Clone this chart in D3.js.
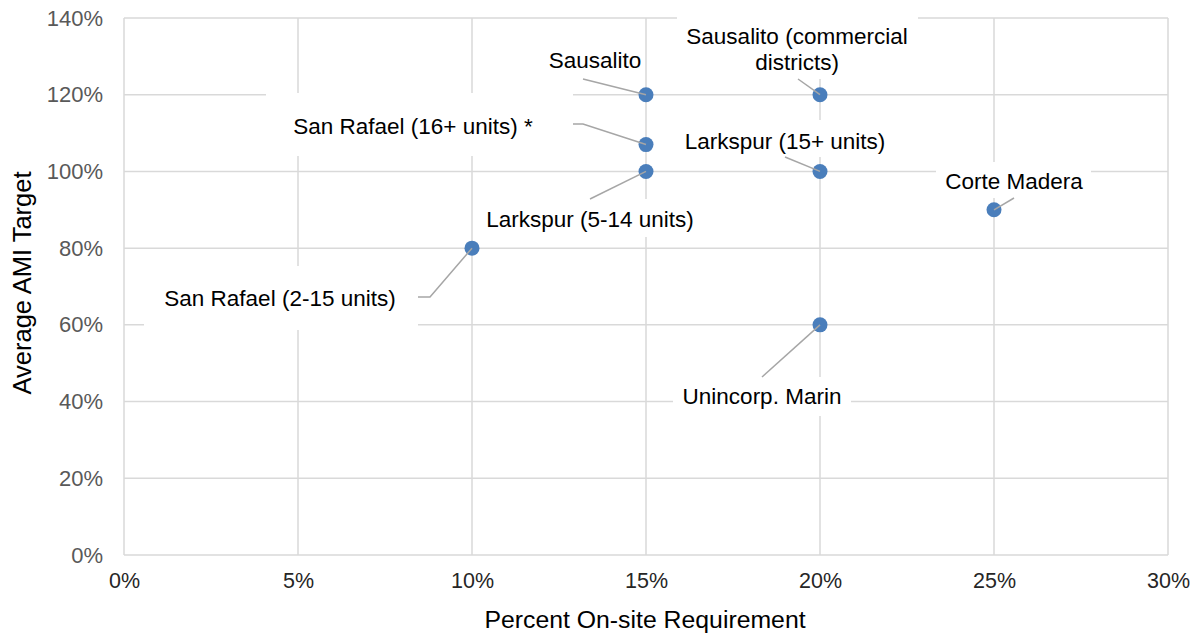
<!DOCTYPE html>
<html>
<head>
<meta charset="utf-8">
<script src="https://cdn.jsdelivr.net/npm/d3@7"></script>
<style>
  body { margin: 0; background: #fff; }
  text { font-family: "Liberation Sans", Arial, sans-serif; }
</style>
</head>
<body>
<div id="chart"></div>
<script>
// data
var names = ["San Rafael (2-15 units)", "Sausalito", "San Rafael (16+ units) *", "Larkspur (5-14 units)",
             "Sausalito (commercial|districts)", "Larkspur (15+ units)", "Corte Madera", "Unincorp. Marin"];
var onsite = [10, 15, 15, 15, 20, 20, 25, 20];
var ami = [80, 120, 107, 100, 120, 100, 90, 60];
var xTicks = [0, 5, 10, 15, 20, 25, 30];
var yTicks = [0, 20, 40, 60, 80, 100, 120, 140];

// label layout (pixels): text centre, box, leader start
var labelPos = [
  {cx: 280, cy: 298, box: [144, 266, 418, 330], lead: [[418, 297], [430, 297]]},
  {cx: 595, cy: 60,  box: [540, 44, 640, 78],   lead: [[583, 79]]},
  {cx: 413, cy: 126, box: [266, 93, 573, 156],  lead: [[573, 124], [583, 124]]},
  {cx: 590, cy: 219, box: [478, 199, 702, 237], lead: [[590, 199]]},
  {cx: 797, cy: 49,  box: [677, 17, 918, 79],   lead: [[798, 79]]},
  {cx: 785, cy: 141, box: [672, 120, 898, 157], lead: [[785, 157]]},
  {cx: 1014, cy: 181, box: [936, 162, 1091, 198], lead: [[1014, 198]]},
  {cx: 762, cy: 396, box: [673, 377, 851, 416], lead: [[762, 377]]}
];

var W = 1199, H = 635;
var m = {left: 124, top: 18, right: 31, bottom: 80};

var svg = d3.select("#chart").append("svg")
    .attr("width", W).attr("height", H);

var x = d3.scaleLinear().domain([0, 30]).range([m.left, W - m.right]);
var y = d3.scaleLinear().domain([0, 140]).range([H - m.bottom, m.top]);

// gridlines
var grid = svg.append("g");
grid.selectAll(".gx").data(xTicks).enter().append("line")
    .attr("x1", d => x(d)).attr("x2", d => x(d))
    .attr("y1", y(0)).attr("y2", y(140))
    .attr("stroke", "#d9d9d9").attr("stroke-width", 1.5);
grid.selectAll(".gy").data(yTicks).enter().append("line")
    .attr("x1", x(0)).attr("x2", x(30))
    .attr("y1", d => y(d)).attr("y2", d => y(d))
    .attr("stroke", "#d9d9d9").attr("stroke-width", 1.5);

// axes (labels only)
var xAxis = d3.axisBottom(x).tickValues(xTicks).tickSize(0).tickPadding(18)
    .tickFormat(d => d + "%");
var gX = svg.append("g").attr("transform", "translate(0," + y(0) + ")").call(xAxis);
gX.select(".domain").remove();
gX.selectAll("text").attr("font-size", 21.5).attr("fill", "#262626")
    .style("font-family", "Liberation Sans, Arial, sans-serif");

var yAxis = d3.axisLeft(y).tickValues(yTicks).tickSize(0).tickPadding(21)
    .tickFormat(d => d + "%");
var gY = svg.append("g").attr("transform", "translate(" + x(0) + ",0)").call(yAxis);
gY.select(".domain").remove();
gY.selectAll("text").attr("font-size", 22).attr("fill", "#595959")
    .style("font-family", "Liberation Sans, Arial, sans-serif");

// axis titles
svg.append("text").attr("x", 645).attr("y", 628).attr("text-anchor", "middle")
    .attr("font-size", 24.8).attr("fill", "#000").text("Percent On-site Requirement");
svg.append("text").attr("transform", "translate(31,283) rotate(-90)").attr("text-anchor", "middle")
    .attr("font-size", 25.5).attr("fill", "#000").text("Average AMI Target");

var pts = names.map((n, i) => ({name: n, x: onsite[i], y: ami[i], lp: labelPos[i]}));

// points
svg.selectAll(".pt").data(pts).enter().append("circle")
    .attr("cx", d => x(d.x)).attr("cy", d => y(d.y)).attr("r", 7.5)
    .attr("fill", "#4a7ebb");

// label boxes
svg.selectAll(".box").data(pts).enter().append("rect")
    .attr("x", d => d.lp.box[0]).attr("y", d => d.lp.box[1])
    .attr("width", d => d.lp.box[2] - d.lp.box[0])
    .attr("height", d => d.lp.box[3] - d.lp.box[1])
    .attr("fill", "#fff");

// leader lines
var line = d3.line();
svg.selectAll(".lead").data(pts).enter().append("path")
    .attr("d", d => line(d.lp.lead.concat([[x(d.x), y(d.y)]])))
    .attr("fill", "none").attr("stroke", "#a6a6a6").attr("stroke-width", 1.5);

// label text
svg.selectAll(".lbl").data(pts).enter().append("text")
    .attr("text-anchor", "middle").attr("font-size", 22.5).attr("fill", "#000")
    .each(function(d) {
      var lines = d.name.split("|");
      var t = d3.select(this);
      lines.forEach(function(s, k) {
        t.append("tspan").attr("x", d.lp.cx)
          .attr("y", d.lp.cy + (k - (lines.length - 1) / 2) * 26 + 8)
          .text(s);
      });
    });
</script>
</body>
</html>
